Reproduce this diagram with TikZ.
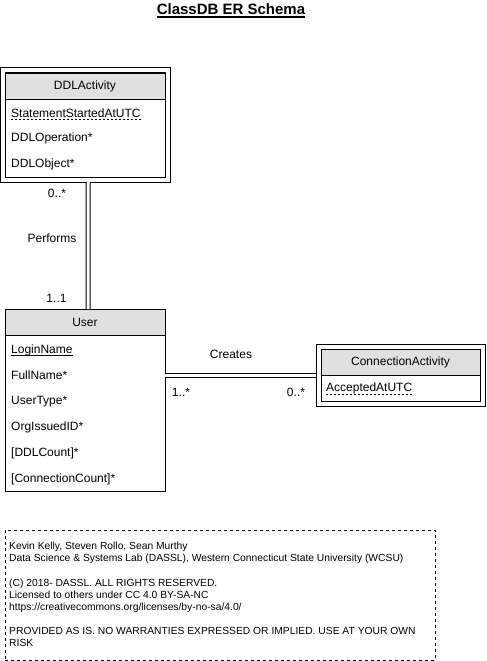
\documentclass[tikz,border=0pt]{standalone}
\usepackage{fontspec}
\setmainfont{Liberation Sans}
\usetikzlibrary{calc}
\definecolor{hdrgray}{HTML}{E0E0E0}
\tikzset{
  box/.style={draw, line width=1pt, inner sep=0pt, outer sep=0pt},
  hdr/.style={box, fill=hdrgray},
  attr/.style={anchor=west, inner sep=0pt},
  lbl/.style={inner sep=0pt},
  rel/.style={draw, line width=1pt, double, double distance=3pt},
  keyline/.style={line width=0.8pt},
  partkey/.style={line width=0.8pt, dash pattern=on 2pt off 2pt},
  notebox/.style={draw, line width=0.8pt, dash pattern=on 3pt off 3pt, inner sep=0pt}
}
\begin{document}
\begin{tikzpicture}[x=1pt, y=-1pt, font=\fontsize{12}{14}\selectfont]
\useasboundingbox (0,0) rectangle (487,661);

% Title
\node[lbl, font=\bfseries\fontsize{15}{18}\selectfont] (title) at (231,9) {ClassDB ER Schema};
\draw[line width=1.6pt] ([yshift=-2.8pt]title.base west) -- ([yshift=-2.8pt]title.base east);

% DDLActivity (weak entity, double border)
\node[box, minimum width=169.5pt, minimum height=114pt] (ddl) at (85.25,125) {};
\node[box, minimum width=160pt, minimum height=104pt] (ddlin) at (85,125) {};
\node[hdr, minimum width=160pt, minimum height=26pt] (ddlh) at (85,86) {DDLActivity};
\node[attr] (ddla1) at (11,113) {StatementStartedAtUTC};
\node[attr] (ddla2) at (11,138) {DDLOperation*};
\node[attr] (ddla3) at (11,164) {DDLObject*};
\draw[partkey] ([yshift=-2.5pt]ddla1.base west) -- ([yshift=-2.5pt]ddla1.base east);

% User
\node[box, minimum width=160pt, minimum height=182pt] (user) at (85,400) {};
\node[hdr, minimum width=160pt, minimum height=26pt] (userh) at (85,322) {User};
\node[attr] (usera1) at (11,350) {LoginName};
\node[attr] (usera2) at (11,375.5) {FullName*};
\node[attr] (usera3) at (11,401.5) {UserType*};
\node[attr] (usera4) at (11,427.5) {OrgIssuedID*};
\node[attr] (usera5) at (11,453.5) {[DDLCount]*};
\node[attr] (usera6) at (11,479.5) {[ConnectionCount]*};
\draw[keyline] ([yshift=-2.5pt]usera1.base west) -- ([yshift=-2.5pt]usera1.base east);

% ConnectionActivity (weak entity, double border)
\node[box, minimum width=169pt, minimum height=62pt] (conn) at (400.5,375) {};
\node[box, minimum width=159pt, minimum height=52pt] (connin) at (400.5,375) {};
\node[hdr, minimum width=159pt, minimum height=26pt] (connh) at (400.5,362) {ConnectionActivity};
\node[attr] (conna1) at (326,388.5) {AcceptedAtUTC};
\draw[partkey] ([yshift=-2.5pt]conna1.base west) -- ([yshift=-2.5pt]conna1.base east);

% Relationship: Performs
\draw[rel] ([xshift=3pt]ddl.south) -- ([xshift=3pt]user.north);
\node[lbl] (perfm) at (57,193) {0..*};
\node[lbl] (perf) at (52,238.5) {Performs};
\node[lbl] (perf1) at (56.5,298.5) {1..1};

% Relationship: Creates
\draw[rel] (user.east |- conn.west) -- (conn.west);
\node[lbl] (creates) at (231,354) {Creates};
\node[lbl] (cre1) at (181,392) {1..*};
\node[lbl] (crem) at (296,392) {0..*};

% Note
\node[notebox, minimum width=430pt, minimum height=130pt] (note) at (220,595) {};
\node[anchor=north west, align=left, inner sep=0pt, font=\fontsize{10.3}{12.1}\selectfont] (notetext) at (9,542.2)
{Kevin Kelly, Steven Rollo, Sean Murthy\\
Data Science \& Systems Lab (DASSL), Western Connecticut State University (WCSU)\\[12.1pt]
(C) 2018- DASSL. ALL RIGHTS RESERVED.\\
Licensed to others under CC 4.0 BY-SA-NC\\
https://creativecommons.org/licenses/by-no-sa/4.0/\\[12.1pt]
PROVIDED AS IS. NO WARRANTIES EXPRESSED OR IMPLIED. USE AT YOUR OWN\\
RISK};
\end{tikzpicture}
\end{document}
